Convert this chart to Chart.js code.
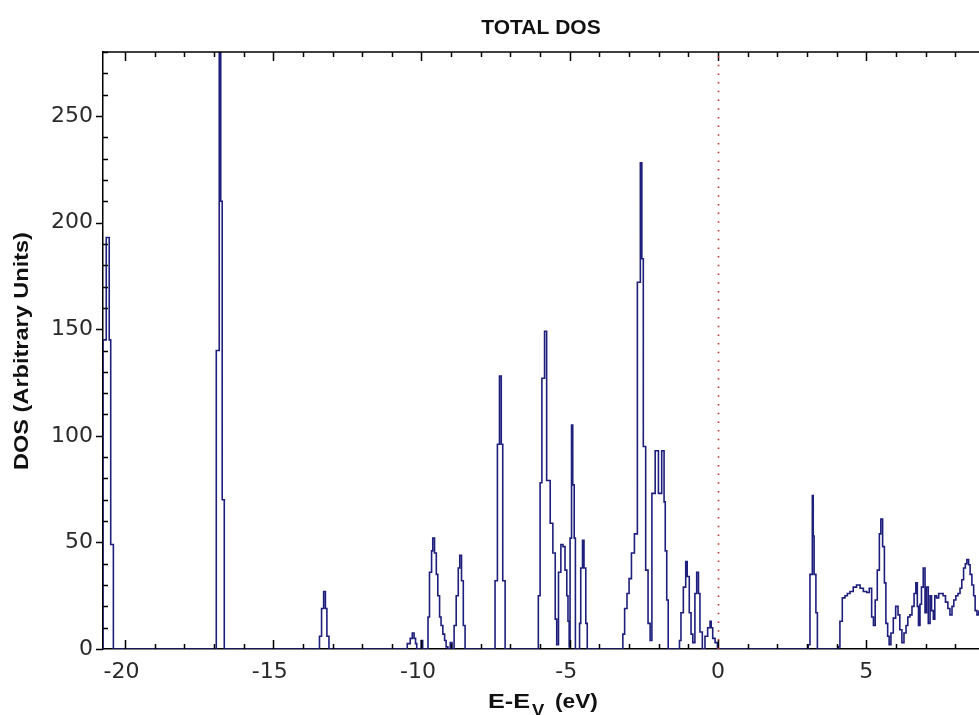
<!DOCTYPE html>
<html>
<head>
<meta charset="utf-8">
<script src="https://cdn.jsdelivr.net/npm/chart.js@4.4.1/dist/chart.umd.min.js"></script>
<style>
  html, body { margin: 0; padding: 0; background: #fff; }
  #wrap { width: 979px; height: 715px; position: relative; }
</style>
</head>
<body>
<div id="wrap"><canvas id="dos-chart"></canvas></div>
<script>
// energies (eV, E - Ev) where each histogram step starts, and the DOS of that step
const energy = [
  -20.80, -20.74, -20.63, -20.53, -20.48, -20.39,
  -16.92, -16.82, -16.77, -16.72, -16.65,
  -13.44, -13.37, -13.30, -13.24, -13.19, -13.12,
  -10.48, -10.38, -10.31, -10.25, -10.20, -10.16, -10.01, -9.96,
  -9.78, -9.73, -9.66, -9.62, -9.56, -9.50, -9.45, -9.39, -9.34, -9.28, -9.22, -9.17, -9.11,
  -9.03, -8.97,
  -8.90, -8.83, -8.76, -8.71, -8.65, -8.59, -8.53,
  -7.52, -7.44, -7.37, -7.31, -7.26, -7.18,
  -6.06, -6.00, -5.94, -5.85, -5.78, -5.66, -5.57, -5.49, -5.44, -5.38, -5.30, -5.23,
  -5.16, -5.10, -5.06, -5.02, -4.99, -4.94, -4.90, -4.85, -4.81,
  -4.67, -4.63, -4.57, -4.52, -4.46, -4.41,
  -3.21, -3.15, -3.07, -3.00, -2.92, -2.82, -2.72, -2.62, -2.57, -2.52, -2.44, -2.36, -2.29,
  -2.23, -2.12, -2.01, -1.90, -1.82, -1.78, -1.73, -1.68,
  -1.30, -1.25, -1.17, -1.09, -1.04, -0.97, -0.91, -0.85, -0.78, -0.72, -0.66, -0.61, -0.53,
  -0.44, -0.35, -0.27, -0.23, -0.18, -0.10, -0.02,
  3.04, 3.10, 3.18, 3.21, 3.24, 3.30, 3.35,
  4.06, 4.11, 4.19, 4.28, 4.36, 4.45, 4.56, 4.67, 4.79, 4.90, 5.01, 5.10, 5.18, 5.24,
  5.30, 5.37, 5.44, 5.49, 5.55, 5.61, 5.66, 5.72, 5.77, 5.83, 5.91, 5.99, 6.07, 6.13,
  6.20, 6.27, 6.34, 6.40, 6.47, 6.54, 6.61, 6.67, 6.72, 6.76, 6.81, 6.86, 6.92, 6.98,
  7.03, 7.09, 7.15, 7.20, 7.26, 7.31, 7.37, 7.44, 7.52, 7.59, 7.67, 7.75, 7.82, 7.89,
  7.95, 8.02, 8.09, 8.16, 8.22, 8.28, 8.34, 8.39, 8.45, 8.50, 8.56, 8.62, 8.67, 8.73, 8.79
];
const dos = [
  0, 145, 193, 145, 49, 0,
  140, 300, 210, 70, 0,
  6, 19, 27, 19, 6, 0,
  2.5, 5, 7.5, 5, 2.5, 0, 4, 0,
  15, 36, 46, 52, 45, 35, 25, 15, 11, 7, 4, 1, 0,
  3, 0,
  11, 25, 38, 44, 32, 11, 0,
  32, 96, 128, 96, 32, 0,
  25, 78, 127, 149, 79, 59, 45, 14, 2, 36, 49, 48,
  37, 25, 13, 1, 52, 105, 77, 52, 0,
  12, 38, 51, 38, 12, 0,
  7, 19, 26, 33, 45, 54, 172, 228, 183, 95, 37, 12, 4,
  73, 93, 73, 93, 69, 46, 23, 0,
  4, 17, 29, 41, 34, 17, 7, 3, 26, 36, 26, 8, 0,
  6, 10, 13, 10, 5, 3, 0,
  2, 35, 72, 53, 35, 17, 0,
  1, 13, 24, 25, 26, 27, 29, 30, 28.5, 27, 26.5, 28.5, 15, 11,
  23, 37, 54, 61, 48, 31, 12, 6, 2, 7.5, 14.5, 20, 16, 9,
  3, 7.5, 11, 15, 16, 20, 26, 31, 20, 11, 21, 29, 38, 17,
  29, 12, 25, 18, 14, 25, 24, 26, 26, 25, 22, 19, 16, 20,
  23, 25, 26, 28.5, 32.5, 38, 40, 42, 39.5, 35, 30, 25, 18, 16, 18
];

const xTickValues = [-20, -15, -10, -5, 0, 5];
const yTickValues = [0, 50, 100, 150, 200, 250];
const titleText = 'TOTAL DOS';
const yTitleText = 'DOS (Arbitrary Units)';

const FONT = "'Liberation Sans', Arial, sans-serif";
const TICK_FONT = "'DejaVu Sans', sans-serif";

// draw text squeezed/stretched horizontally, left or centre anchored
function stretchText(ctx, text, x, y, sx, align) {
  ctx.save();
  ctx.translate(x, y);
  ctx.scale(sx, 1);
  ctx.textAlign = align;
  ctx.fillText(text, 0, 0);
  ctx.restore();
}

// frame, inward minor ticks, Fermi line and titles
const decorations = {
  id: 'decorations',
  afterDraw(chart) {
    const { ctx, chartArea: a, scales: { x, y } } = chart;
    ctx.save();
    ctx.strokeStyle = '#000';
    ctx.lineWidth = 1.5;

    // top frame line
    ctx.beginPath();
    ctx.moveTo(a.left, a.top);
    ctx.lineTo(a.right + 2, a.top);
    ctx.stroke();

    // x ticks (bottom and top, pointing in)
    ctx.beginPath();
    for (let v = -20; v <= 8; v++) {
      const px = Math.round(x.getPixelForValue(v)) + 0.5;
      const len = v % 5 === 0 ? 9 : 5;
      ctx.moveTo(px, a.bottom);
      ctx.lineTo(px, a.bottom - len);
      ctx.moveTo(px, a.top);
      ctx.lineTo(px, a.top + len);
    }
    // y ticks: majors outward, minors inward
    for (let v = 0; v <= 280; v += 10) {
      const py = Math.round(y.getPixelForValue(v)) + 0.5;
      ctx.moveTo(a.left, py);
      ctx.lineTo(v % 50 === 0 ? a.left - 7 : a.left + 5, py);
    }
    ctx.stroke();

    // dotted line at E = Ev
    const x0 = Math.round(x.getPixelForValue(0)) + 0.5;
    ctx.strokeStyle = '#c8322a';
    ctx.lineWidth = 1.6;
    ctx.setLineDash([1.5, 7.2]);
    ctx.beginPath();
    ctx.moveTo(x0, a.top + 4);
    ctx.lineTo(x0, a.bottom);
    ctx.stroke();
    ctx.setLineDash([]);

    // titles
    ctx.fillStyle = '#111';
    ctx.textBaseline = 'middle';
    ctx.font = 'bold 20px ' + FONT;
    stretchText(ctx, titleText, (a.left + a.right) / 2, 28, 1.05, 'center');

    ctx.save();
    ctx.translate(22, 351);
    ctx.rotate(-Math.PI / 2);
    ctx.font = 'bold 21px ' + FONT;
    stretchText(ctx, yTitleText, 0, 0, 1.12, 'center');
    ctx.restore();

    // x title with subscript V
    ctx.textBaseline = 'alphabetic';
    ctx.font = 'bold 21px ' + FONT;
    stretchText(ctx, 'E-E', 488, 708, 1.2, 'left');
    ctx.font = 'bold 16px ' + FONT;
    stretchText(ctx, 'V', 532, 716, 1.15, 'left');
    ctx.font = 'bold 21px ' + FONT;
    stretchText(ctx, '(eV)', 555, 708, 1.08, 'left');
    ctx.restore();
  }
};

const data = {
  datasets: [{
    label: 'Total DOS',
    data: energy.map((e, i) => ({ x: e, y: dos[i] })),
    borderColor: '#1e1e7c',
    borderWidth: 1.6,
    stepped: 'before',
    pointRadius: 0,
    fill: false,
    tension: 0
  }]
};

const config = {
  type: 'line',
  data: data,
  options: {
    responsive: true,
    maintainAspectRatio: false,
    animation: false,
    layout: { padding: { top: 52, left: 0, right: 0, bottom: 0 } },
    plugins: {
      legend: { display: false },
      title: { display: false },
      tooltip: { enabled: false }
    },
    scales: {
      x: {
        type: 'linear',
        min: -20.74,
        max: 8.8,
        afterBuildTicks: s => { s.ticks = xTickValues.map(v => ({ value: v })); },
        afterFit: s => { s.height = 66; },
        grid: { display: false, drawTicks: false },
        border: { display: true, color: '#000', width: 1.5 },
        ticks: {
          padding: 10,
          color: '#2a2a2a',
          font: { family: TICK_FONT, size: 22 },
          maxRotation: 0,
          // keep the digits over the tick, minus sign hanging left
          callback: v => (v < 0 ? String(v) + ' ' : String(v))
        }
      },
      y: {
        type: 'linear',
        min: 0,
        max: 280,
        afterBuildTicks: s => { s.ticks = yTickValues.map(v => ({ value: v })); },
        afterFit: s => { s.width = 103; },
        grid: { display: false, drawTicks: false },
        border: { display: true, color: '#000', width: 1.5 },
        ticks: {
          padding: 10,
          color: '#2a2a2a',
          font: { family: TICK_FONT, size: 22 }
        }
      }
    }
  },
  plugins: [decorations]
};

const chart = new Chart(document.getElementById('dos-chart'), config);
</script>
</body>
</html>
